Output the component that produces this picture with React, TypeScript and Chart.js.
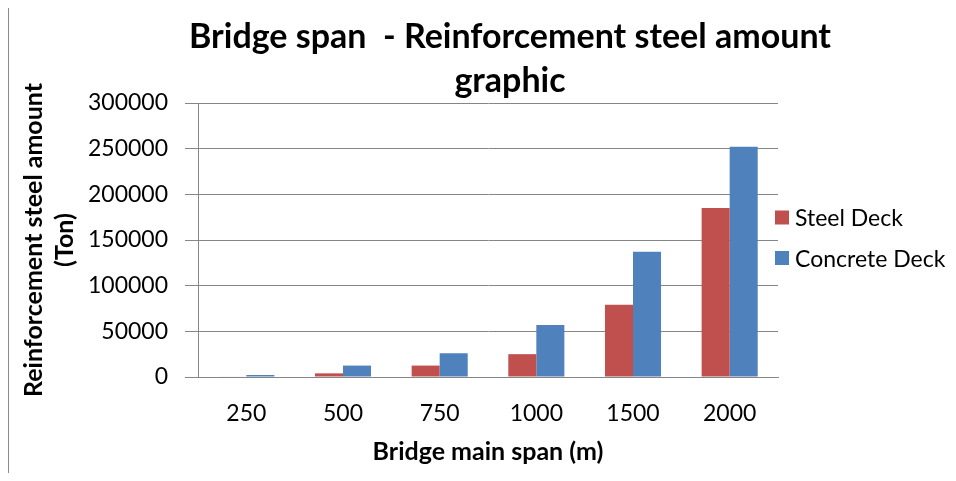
import React, { useEffect, useRef } from 'react';
import { Chart, registerables } from 'chart.js';

Chart.register(...registerables);

const categories = ['250', '500', '750', '1000', '1500', '2000'];
const steelDeck = [500, 4000, 12500, 25000, 79000, 185000];
const concreteDeck = [2200, 12500, 26000, 57000, 137000, 252000];
const seriesNames = ['Steel Deck', 'Concrete Deck'];
const seriesColors = ['#C0504D', '#4F81BD'];
const titleLines = ['Bridge span  - Reinforcement steel amount', 'graphic'];
const yAxisTitle = ['Reinforcement steel amount', '(Ton)'];
const xAxisTitle = 'Bridge main span (m)';
const yMax = 300000;
const yStep = 50000;

const FONT = 'Lato, "Open Sans", sans-serif';

const titlePlugin = {
  id: 'excelTitle',
  afterDraw(chart: any) {
    const ctx = chart.ctx;
    ctx.save();
    ctx.font = `bold 34px ${FONT}`;
    ctx.fillStyle = '#000';
    ctx.textAlign = 'center';
    ctx.textBaseline = 'alphabetic';
    titleLines.forEach((t, i) => ctx.fillText(t, 501, 42 + i * 44));
    ctx.restore();
  },
};

const legendPlugin = {
  id: 'excelLegend',
  afterDraw(chart: any) {
    const ctx = chart.ctx;
    ctx.save();
    ctx.font = `23px ${FONT}`;
    ctx.textAlign = 'left';
    ctx.textBaseline = 'alphabetic';
    chart.data.datasets.forEach((ds: any, i: number) => {
      const cy = 211.5 + i * 40.5;
      ctx.fillStyle = ds.backgroundColor;
      ctx.fillRect(766, cy - 7, 14, 14);
      ctx.fillStyle = '#000';
      ctx.fillText(ds.label, 786, cy + 8.5);
    });
    ctx.restore();
  },
};

export default function App() {
  const ref = useRef<HTMLCanvasElement>(null);
  useEffect(() => {
    document.body.style.overflow = 'hidden';
    const chart = new Chart(ref.current as HTMLCanvasElement, {
      type: 'bar',
      data: {
        labels: categories,
        datasets: [
          { label: seriesNames[0], data: steelDeck, backgroundColor: seriesColors[0], categoryPercentage: 0.58, barPercentage: 1 },
          { label: seriesNames[1], data: concreteDeck, backgroundColor: seriesColors[1], categoryPercentage: 0.58, barPercentage: 1 },
        ],
      },
      options: {
        responsive: false,
        animation: false,
        layout: { padding: { top: 97, right: 178, left: 0, bottom: 0 } },
        plugins: {
          legend: { display: false },
          title: { display: false },
          tooltip: { enabled: false },
        },
        scales: {
          x: {
            grid: { display: false, drawTicks: false },
            border: { display: true, color: '#868686', width: 1 },
            ticks: { padding: 23, color: '#000', font: { family: FONT, size: 23 } },
            title: {
              display: true,
              text: xAxisTitle,
              color: '#000',
              font: { family: FONT, size: 25, weight: 'bold' },
              padding: { top: 0, bottom: 6 },
            },
            afterFit: (s: any) => { s.height = 96; },
          },
          y: {
            min: 0,
            max: yMax,
            ticks: {
              stepSize: yStep,
              padding: 17,
              color: '#000',
              font: { family: FONT, size: 23 },
              callback: (v: any) => String(v),
            },
            grid: { color: '#868686', lineWidth: 1, tickLength: 13, drawTicks: true },
            border: { display: true, color: '#868686', width: 1 },
            title: {
              display: true,
              text: yAxisTitle,
              color: '#000',
              font: { family: FONT, size: 25, weight: 'bold', lineHeight: 1.25 },
              padding: { top: 9, bottom: 0 },
            },
            afterFit: (s: any) => { s.width = 189; },
          },
        },
      } as any,
      plugins: [titlePlugin, legendPlugin],
    });
    return () => chart.destroy();
  }, []);

  return (
    <div
      style={{
        marginTop: -3,
        width: 948,
        height: 468,
        borderTop: '1px solid #8c8c8c',
        borderLeft: '1px solid #8c8c8c',
        boxSizing: 'border-box',
        overflow: 'hidden',
        background: '#fff',
      }}
    >
      <canvas ref={ref} width={947} height={467} style={{ display: 'block' }} />
    </div>
  );
}
